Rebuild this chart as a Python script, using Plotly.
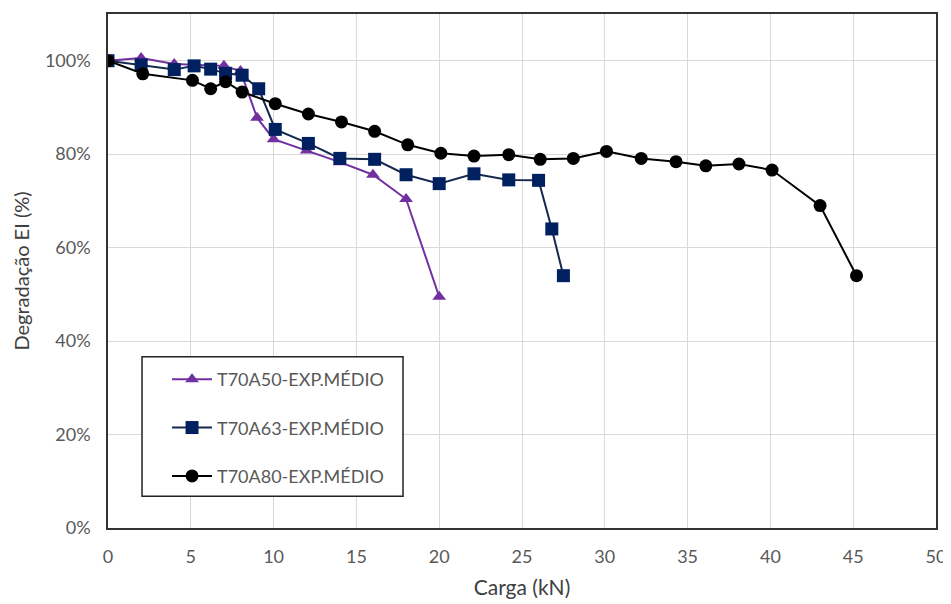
import plotly.graph_objects as go

# Data
x_a50 = [0, 2, 4, 7, 8, 9, 10, 12, 14, 16, 18, 20]
y_a50 = [100, 100.6, 99.3, 98.9, 97.8, 87.8, 83.2, 80.8, 78.3, 75.6, 70.4, 49.5]

x_a63 = [0, 2, 4, 5.2, 6.2, 7.1, 8.1, 9.1, 10.1, 12.1, 14, 16.1, 18, 20, 22.1, 24.2, 26, 26.8, 27.5]
y_a63 = [100, 99.1, 98.1, 98.9, 98.2, 97.3, 96.9, 94.0, 85.3, 82.3, 79.1, 78.9, 75.6, 73.7, 75.8, 74.5, 74.4, 64.0, 54.0]

x_a80 = [0, 2.1, 5.1, 6.2, 7.1, 8.1, 10.1, 12.1, 14.1, 16.1, 18.1, 20.1, 22.1, 24.2, 26.1, 28.1, 30.1, 32.2, 34.3, 36.1, 38.1, 40.1, 43.0, 45.2]
y_a80 = [100, 97.2, 95.8, 94.0, 95.5, 93.3, 90.8, 88.6, 86.9, 84.9, 82.0, 80.2, 79.6, 79.9, 78.9, 79.1, 80.6, 79.1, 78.4, 77.5, 77.9, 76.6, 69.0, 54.0]

names = ["T70A50-EXP.MÉDIO", "T70A63-EXP.MÉDIO", "T70A80-EXP.MÉDIO"]

x_ticks = [0, 5, 10, 15, 20, 25, 30, 35, 40, 45, 50]
y_ticks = [0, 20, 40, 60, 80, 100]
y_tick_labels = ["0%", "20%", "40%", "60%", "80%", "100%"]

FONT = "Lato, 'Open Sans', sans-serif"
GRAY = "#595959"

fig = go.Figure()
fig.add_trace(go.Scatter(
    x=x_a50, y=y_a50, name=names[0], mode="lines+markers", legendgroup="a",
    line=dict(color="#7030A0", width=2),
    marker=dict(symbol="triangle-up", size=12, color="#7030A0"),
))
fig.add_trace(go.Scatter(
    x=x_a63, y=y_a63, name=names[1], mode="lines+markers", legendgroup="b",
    line=dict(color="#15294F", width=2),
    marker=dict(symbol="square", size=13, color="#002060"),
))
fig.add_trace(go.Scatter(
    x=x_a80, y=y_a80, name=names[2], mode="lines+markers", legendgroup="c",
    line=dict(color="#000000", width=2),
    marker=dict(symbol="circle", size=13, color="#000000"),
))

# legend frame (white box with dark border)
fig.add_shape(
    type="rect", xref="paper", yref="paper",
    x0=0.0411, x1=0.3563, y0=0.062, y1=0.3333,
    line=dict(color="#222222", width=1.5), fillcolor="white", layer="above",
)

fig.update_layout(
    width=951, height=604,
    margin=dict(l=100, r=23, t=4, b=84),
    paper_bgcolor="white", plot_bgcolor="white",
    font=dict(family=FONT, size=18, color=GRAY),
    legend=dict(
        x=0.0713, y=0.325, xanchor="left", yanchor="top",
        borderwidth=0, bgcolor="rgba(0,0,0,0)",
        font=dict(family=FONT, size=18, color=GRAY),
        tracegroupgap=22, itemwidth=40,
    ),
    showlegend=True,
)
fig.update_xaxes(
    range=[0, 50], tickvals=x_ticks, ticktext=[str(v) for v in x_ticks],
    showgrid=True, gridcolor="#D9D9D9", gridwidth=1,
    showline=True, linecolor="#333333", linewidth=1.5, mirror=True,
    zeroline=False, ticks="outside", ticklen=12, tickcolor="rgba(0,0,0,0)",
    tickfont=dict(family=FONT, size=18, color=GRAY),
    title=dict(text="Carga (kN)", font=dict(family=FONT, size=21, color="#404040"), standoff=14),
)
fig.update_yaxes(
    range=[0, 110], tickvals=y_ticks, ticktext=y_tick_labels,
    showgrid=True, gridcolor="#D9D9D9", gridwidth=1,
    showline=True, linecolor="#333333", linewidth=1.5, mirror=True,
    zeroline=False, ticks="outside", ticklen=12, tickcolor="rgba(0,0,0,0)",
    tickfont=dict(family=FONT, size=18, color=GRAY),
    title=dict(text="Degradação EI (%)", font=dict(family=FONT, size=20, color="#404040"), standoff=10),
)

fig.write_html("out.html")
